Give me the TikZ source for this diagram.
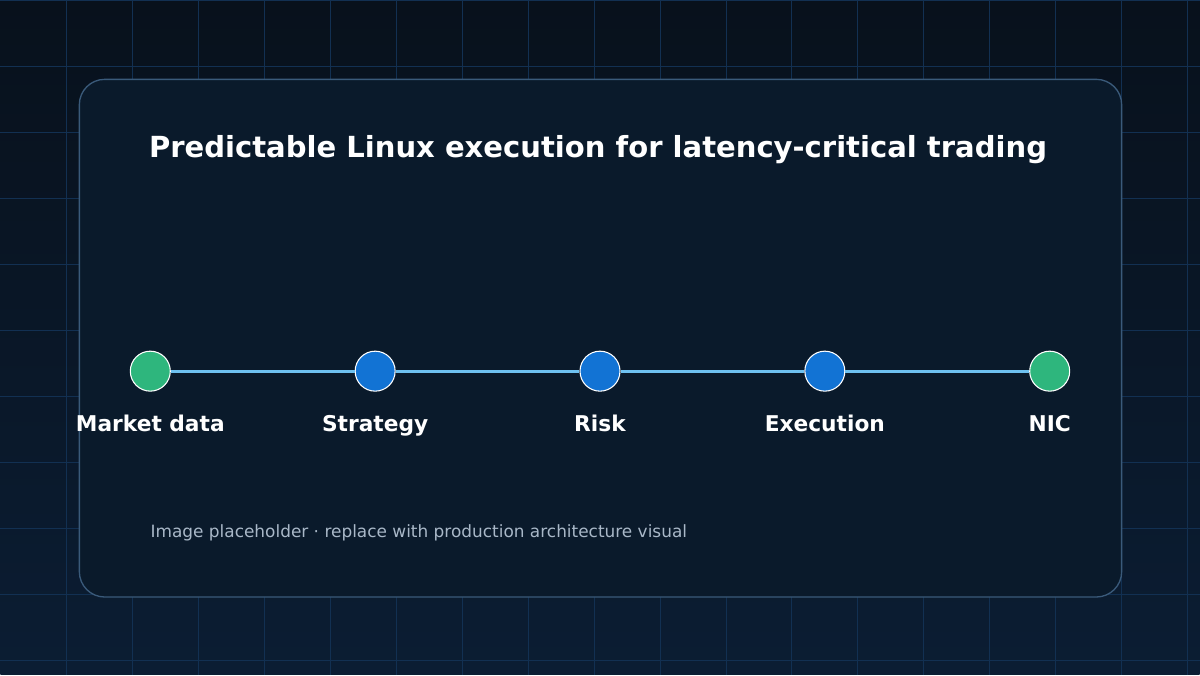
\documentclass[tikz,border=0pt]{standalone}
\usepackage{fontspec}
\setmainfont{DejaVu Sans}
\usetikzlibrary{positioning}
\definecolor{bgtop}{HTML}{08111C}
\definecolor{bgbot}{HTML}{0B1D33}
\definecolor{gridc}{HTML}{123052}
\definecolor{cardc}{HTML}{0A1A2B}
\definecolor{cardline}{HTML}{3A5A7A}
\definecolor{greenc}{HTML}{2EB67D}
\definecolor{bluec}{HTML}{1273D4}
\definecolor{linkc}{HTML}{6EC1F0}
\definecolor{capc}{HTML}{A9B8C8}
\tikzset{
  stage/.style={circle, draw=white, line width=0.8pt, minimum size=30pt, inner sep=0pt},
  lbl/.style={text=white, font=\fontsize{16.3}{18}\selectfont\bfseries},
}
\begin{document}
\begin{tikzpicture}[x=0.75pt,y=-0.75pt]
    %Bakgrunn
        \shade[top color=bgtop, bottom color=bgbot] (0,0) rectangle (1200,675);
        \foreach \x in {66,132,...,1190} \draw[gridc, line width=0.6pt] (\x,0)--(\x,675);
        \foreach \y in {0,66,...,670} \draw[gridc, line width=0.6pt] (0,\y)--(1200,\y);
        \useasboundingbox (0,0) rectangle (1200,675);

    %Kort
        \filldraw[fill=cardc, draw=cardline, line width=1pt, rounded corners=19pt] (79,79) rectangle (1122,597);
        \node[text=white, font=\fontsize{21.8}{26}\selectfont\bfseries] (title) at (598,149) {Predictable Linux execution for latency-critical trading};

    %Stadier
        \node[stage, fill=greenc] (md) at (150,371) {};
        \node[stage, fill=bluec] (st) at (375,371) {};
        \node[stage, fill=bluec] (rk) at (600,371) {};
        \node[stage, fill=bluec] (ex) at (825,371) {};
        \node[stage, fill=greenc] (nic) at (1050,371) {};
        %
        \draw[linkc, line width=2.3pt] (md)--(st);
        \draw[linkc, line width=2.3pt] (st)--(rk);
        \draw[linkc, line width=2.3pt] (rk)--(ex);
        \draw[linkc, line width=2.3pt] (ex)--(nic);
        %
        \node[lbl, below=14pt of md] {Market data};
        \node[lbl, below=14pt of st] {Strategy};
        \node[lbl, below=14pt of rk] {Risk};
        \node[lbl, below=14pt of ex] {Execution};
        \node[lbl, below=14pt of nic] {NIC};

        \node[anchor=west, text=capc, font=\fontsize{12.7}{14}\selectfont, inner sep=0pt] (cap) at (150,533) {Image placeholder · replace with production architecture visual};
\end{tikzpicture}
\end{document}
